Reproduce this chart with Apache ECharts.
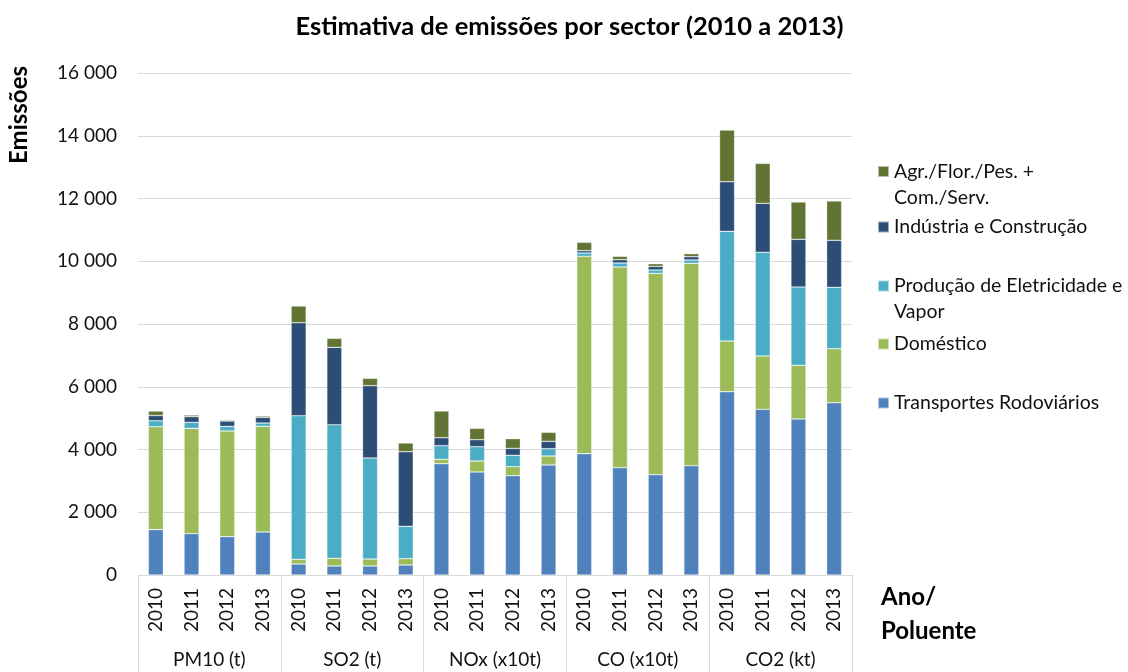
<!DOCTYPE html>
<html>
<head>
<meta charset="utf-8">
<script src="https://cdn.jsdelivr.net/npm/echarts@6/dist/echarts.min.js"></script>
<style>
html,body{margin:0;padding:0;background:#fff;}
#chart{width:1128px;height:672px;}
</style>
</head>
<body>
<div id="chart"></div>
<script>
// ---- data ----
const years = ['2010', '2011', '2012', '2013'];
const groups = ['PM10 (t)', 'SO2 (t)', 'NOx (x10t)', 'CO (x10t)', 'CO2 (kt)'];
const yTicks = [0, 2000, 4000, 6000, 8000, 10000, 12000, 14000, 16000];

const transportes = [1445, 1317, 1222, 1371, 350, 287, 287, 319, 3548, 3283, 3166, 3506, 3867, 3420, 3197, 3484, 5842, 5281, 4972, 5491];
const domestico   = [3280, 3357, 3367, 3367, 150, 244, 223, 202, 138, 350, 286, 286, 6290, 6396, 6417, 6449, 1616, 1700, 1711, 1721];
const producao    = [190, 191, 149, 106, 4577, 4259, 3219, 1030, 435, 456, 362, 233, 106, 128, 106, 107, 3495, 3304, 2495, 1956];
const industria   = [170, 181, 170, 181, 2964, 2466, 2305, 2379, 255, 223, 222, 235, 74, 106, 118, 106, 1582, 1561, 1521, 1500];
const agricultura = [140, 53, 32, 42, 532, 287, 234, 277, 851, 363, 308, 288, 266, 107, 84, 96, 1647, 1274, 1189, 1253];

const seriesNames = ['Transportes Rodoviários', 'Doméstico', 'Produção de Eletricidade e Vapor', 'Indústria e Construção', 'Agr./Flor./Pes. + Com./Serv.'];
const seriesData = [transportes, domestico, producao, industria, agricultura];
const seriesColors = ['#4f81bd', '#9bbb59', '#4bacc6', '#2c4d75', '#617433'];

// ---- build ----
const categories = [];
groups.forEach(() => years.forEach(y => categories.push(y)));

const FONT = 'Lato';
const TXT = '#111';
const fmt = v => String(v).replace(/\B(?=(\d{3})+(?!\d))/g, ' ');

const series = seriesNames.map((n, i) => ({
  name: n,
  type: 'bar',
  stack: 'total',
  barWidth: 15,
  data: seriesData[i],
  itemStyle: { color: seriesColors[i], borderColor: 'rgba(255,255,255,0.55)', borderWidth: 0.6 },
  emphasis: { disabled: true }
}));

const legendText = {
  'Agr./Flor./Pes. + Com./Serv.': ' \nAgr./Flor./Pes. +\nCom./Serv.',
  'Produção de Eletricidade e Vapor': ' \nProdução de Eletricidade e\nVapor'
};
const legendLayout = [
  { name: 'Agr./Flor./Pes. + Com./Serv.', center: 171.5, lines: 3 },
  { name: 'Indústria e Construção', center: 227, lines: 1 },
  { name: 'Produção de Eletricidade e Vapor', center: 286, lines: 3 },
  { name: 'Doméstico', center: 344, lines: 1 },
  { name: 'Transportes Rodoviários', center: 403, lines: 1 }
];
const LH = 26;
const legends = legendLayout.map(l => ({
  data: [l.name],
  left: 877,
  top: l.center - l.lines * LH / 2,
  padding: 0,
  orient: 'vertical',
  itemWidth: 11,
  itemHeight: 11,
  itemGap: 0,
  selectedMode: false,
  icon: 'rect',
  formatter: name => legendText[name] || name,
  textStyle: { fontFamily: FONT, fontSize: 19.5, color: TXT, lineHeight: LH, padding: [0, 0, 0, 0] }
}));

const chart = echarts.init(document.getElementById('chart'), null, { renderer: 'canvas' });
chart.setOption({
  animation: false,
  backgroundColor: '#fff',
  grid: { left: 138, right: 276, top: 73, bottom: 97, containLabel: false },
  legend: legends,
  graphic: [
    { type: 'text', x: 569.5, y: 27, style: { text: 'Estimativa de emissões por sector (2010 a 2013)', font: 'bold 25.5px ' + FONT, fill: '#000', align: 'center', verticalAlign: 'middle' } },
    { type: 'text', x: 19, y: 115, rotation: Math.PI / 2, style: { text: 'Emissões', font: 'bold 24px ' + FONT, fill: '#000', align: 'center', verticalAlign: 'middle' } },
    { type: 'text', x: 881, y: 614, style: { text: 'Ano/\nPoluente', font: 'bold 24px ' + FONT, lineHeight: 34, fill: '#000', align: 'left', verticalAlign: 'middle' } }
  ],
  xAxis: [
    {
      type: 'category',
      data: categories,
      position: 'bottom',
      axisLine: { show: true, lineStyle: { color: '#d9d9d9', width: 1 } },
      axisTick: { show: false },
      axisLabel: { interval: 0, rotate: 90, margin: 13, fontFamily: FONT, fontSize: 19, color: TXT }
    },
    {
      type: 'category',
      data: groups,
      position: 'bottom',
      axisLine: { show: false },
      axisTick: { show: true, interval: 0, length: 97, lineStyle: { color: '#d9d9d9', width: 1 } },
      axisLabel: { interval: 0, margin: 75, fontFamily: FONT, fontSize: 19, color: TXT }
    }
  ],
  yAxis: {
    type: 'value',
    min: yTicks[0],
    max: yTicks[yTicks.length - 1],
    interval: 2000,
    axisLine: { show: false },
    axisTick: { show: false },
    splitLine: { lineStyle: { color: '#d9d9d9', width: 1 } },
    axisLabel: { margin: 21, fontFamily: FONT, fontSize: 19, color: TXT, formatter: v => fmt(v) }
  },
  series: series
});
</script>
</body>
</html>
